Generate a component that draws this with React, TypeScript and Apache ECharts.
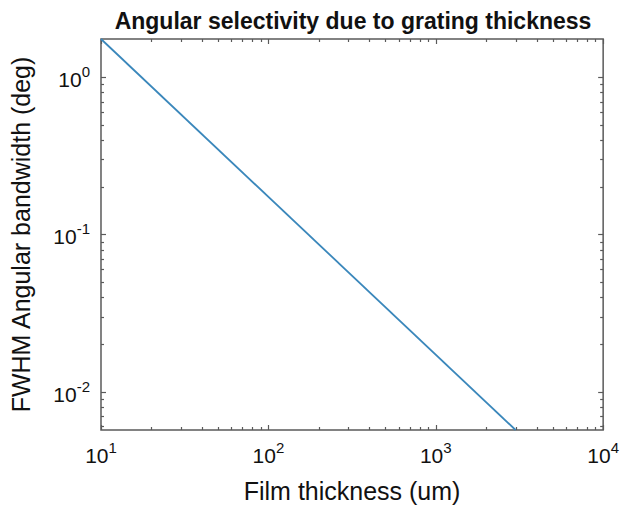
import React, { useEffect, useRef } from "react";
import * as echarts from "echarts";

// Data (log-log straight line)
const thicknessUm: number[] = [10, 3000];
const fwhmDeg: number[] = [1.75, 0.0057];

// Axis ranges
const X_MIN = 10;
const X_MAX = 10000;
const Y_MIN = 0.0057;
const Y_MAX = 1.75;

// Tick positions
const xMajorTicks: number[] = [10, 100, 1000, 10000];
const xMinorTicks: number[] = [
  20, 30, 40, 50, 60, 70, 80, 90,
  200, 300, 400, 500, 600, 700, 800, 900,
  2000, 3000, 4000, 5000, 6000, 7000, 8000, 9000,
];
const yMajorTicks: number[] = [0.01, 0.1, 1];
const yMinorTicks: number[] = [
  0.006, 0.007, 0.008, 0.009,
  0.02, 0.03, 0.04, 0.05, 0.06, 0.07, 0.08, 0.09,
  0.2, 0.3, 0.4, 0.5, 0.6, 0.7, 0.8, 0.9,
];

const TITLE = "Angular selectivity due to grating thickness";
const X_NAME = "Film thickness (um)";
const Y_NAME = "FWHM Angular bandwidth (deg)";

const FONT = "'Liberation Sans', Arial, Helvetica, sans-serif";
const AXIS_COLOR = "#5a5a5a";
const LINE_COLOR = "#3a87bb";

const isPow10 = (v: number) => {
  const l = Math.log10(v);
  return Math.abs(l - Math.round(l)) < 1e-6;
};
const powLabel = (v: number) =>
  isPow10(v) ? `{b|10}{s|${Math.round(Math.log10(v))}}` : "";

const richStyle = {
  b: { fontSize: 21, verticalAlign: "top", padding: [5, 0, 0, 0], color: "#111", fontFamily: FONT },
  s: { fontSize: 15, verticalAlign: "top", color: "#111", fontFamily: FONT },
};

export default function App() {
  const ref = useRef<HTMLDivElement>(null);
  useEffect(() => {
    if (!ref.current) return;
    const chart = echarts.init(ref.current, undefined, { renderer: "svg" });

    const xTickData = [
      ...xMajorTicks.map((v) => [v, Y_MIN, 1]),
      ...xMinorTicks.map((v) => [v, Y_MIN, 0]),
    ];
    const yTickData = [
      ...yMajorTicks.map((v) => [X_MIN, v, 1]),
      ...yMinorTicks.map((v) => [X_MIN, v, 0]),
    ];
    const tickStyle = { stroke: AXIS_COLOR, lineWidth: 1.2 };

    chart.setOption({
      animation: false,
      backgroundColor: "#ffffff",
      title: {
        text: TITLE,
        left: 348,
        top: 4,
        textAlign: "center",
        textStyle: { fontFamily: FONT, fontSize: 23, fontWeight: "bold", color: "#111" },
      },
      grid: {
        left: 97,
        top: 39,
        width: 507,
        height: 392,
        show: true,
        borderColor: AXIS_COLOR,
        borderWidth: 1.5,
        backgroundColor: "#ffffff",
      },
      xAxis: {
        type: "log",
        logBase: 10,
        min: X_MIN,
        max: X_MAX,
        splitNumber: 3,
        name: X_NAME,
        nameLocation: "middle",
        nameGap: 48,
        nameTextStyle: { fontFamily: FONT, fontSize: 25, color: "#111" },
        axisLine: { show: false },
        axisTick: { show: false },
        splitLine: { show: false },
        axisLabel: {
          interval: 0,
          margin: 10,
          formatter: powLabel,
          rich: richStyle,
        },
      },
      yAxis: {
        type: "log",
        logBase: 10,
        min: Y_MIN,
        max: Y_MAX,
        splitNumber: 3,
        name: Y_NAME,
        nameLocation: "middle",
        nameGap: 68,
        nameTextStyle: { fontFamily: FONT, fontSize: 25, color: "#111" },
        axisLine: { show: false },
        axisTick: { show: false },
        splitLine: { show: false },
        axisLabel: {
          interval: 0,
          margin: 11,
          formatter: powLabel,
          rich: richStyle,
        },
      },
      series: [
        {
          type: "line",
          data: thicknessUm.map((x, i) => [x, fwhmDeg[i]]),
          showSymbol: false,
          symbol: "none",
          lineStyle: { color: LINE_COLOR, width: 1.8 },
          silent: true,
        },
        {
          type: "custom",
          silent: true,
          clip: false,
          data: xTickData,
          renderItem: (params: any, api: any) => {
            const cs = params.coordSys;
            const p = api.coord([api.value(0), Y_MIN]);
            const len = api.value(2) === 1 ? 5 : 3;
            const x = Math.round(p[0]) + 0.5;
            return {
              type: "group",
              children: [
                { type: "line", shape: { x1: x, y1: cs.y + cs.height, x2: x, y2: cs.y + cs.height - len }, style: tickStyle },
                { type: "line", shape: { x1: x, y1: cs.y, x2: x, y2: cs.y + len }, style: tickStyle },
              ],
            };
          },
        },
        {
          type: "custom",
          silent: true,
          clip: false,
          data: yTickData,
          renderItem: (params: any, api: any) => {
            const cs = params.coordSys;
            const p = api.coord([X_MIN, api.value(1)]);
            const len = api.value(2) === 1 ? 5 : 3;
            const y = Math.round(p[1]) + 0.5;
            return {
              type: "group",
              children: [
                { type: "line", shape: { x1: cs.x, y1: y, x2: cs.x + len, y2: y }, style: tickStyle },
                { type: "line", shape: { x1: cs.x + cs.width, y1: y, x2: cs.x + cs.width - len, y2: y }, style: tickStyle },
              ],
            };
          },
        },
      ],
    });
    return () => chart.dispose();
  }, []);
  return (
    <div
      ref={ref}
      style={{ position: "absolute", left: 0, top: 0, width: 622, height: 508, background: "#fff" }}
    />
  );
}
